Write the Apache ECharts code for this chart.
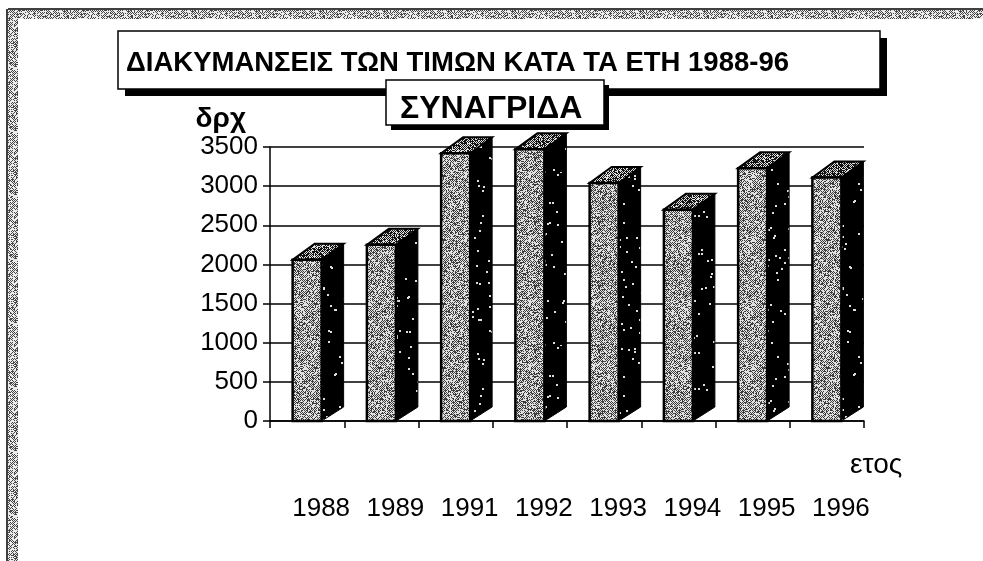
<!DOCTYPE html>
<html>
<head>
<meta charset="utf-8">
<style>html,body{margin:0;padding:0;background:#fff}#c{width:983px;height:561px}</style>
<script src="https://cdn.jsdelivr.net/npm/echarts@6/dist/echarts.min.js"></script>
</head>
<body>
<div id="c"></div>
<script>
const years = ['1988','1989','1991','1992','1993','1994','1995','1996'];
const prices = [2060,2250,3420,3470,3040,2700,3230,3110];
const yTicks = [0,500,1000,1500,2000,2500,3000,3500];
const mainTitle = 'ΔΙΑΚΥΜΑΝΣΕΙΣ ΤΩΝ ΤΙΜΩΝ ΚΑΤΑ ΤΑ ΕΤΗ 1988-96';
const subTitle = 'ΣΥΝΑΓΡΙΔΑ';
const yName = 'δρχ';
const xName = 'ετος';

// Deterministic scanned-print textures
function hash(x, y, s) {
  let h = (x * 374761393 + y * 668265263 + s * 2147483647) | 0;
  h = Math.imul(h ^ (h >>> 13), 1274126177);
  return ((h ^ (h >>> 16)) >>> 0) / 4294967296;
}
function texture(size, baseBlack, seed, dark, light) {
  const cv = document.createElement('canvas');
  cv.width = cv.height = size;
  const g = cv.getContext('2d');
  const img = g.createImageData(size, size);
  for (let y = 0; y < size; y++) for (let x = 0; x < size; x++) {
    const check = (x + y) % 2 === 0 ? 0.3 : -0.3;
    const v = hash(x, y, seed) < baseBlack + check ? dark : light;
    const i = (y * size + x) * 4;
    img.data[i] = img.data[i+1] = img.data[i+2] = v; img.data[i+3] = 255;
  }
  g.putImageData(img, 0, 0);
  return cv;
}
const frontFill = { image: texture(64, 0.45, 3, 60, 225), repeat: 'repeat' };
const topFill = { image: texture(48, 0.6, 7, 20, 225), repeat: 'repeat' };
const stripFill = { image: texture(64, 0.4, 11, 70, 235), repeat: 'repeat' };
function specks(size, seed) {
  const cv = document.createElement('canvas');
  cv.width = cv.height = size;
  const g = cv.getContext('2d');
  g.fillStyle = '#000'; g.fillRect(0, 0, size, size);
  g.fillStyle = '#ddd';
  for (let y = 0; y < size; y++) for (let x = 0; x < size; x++) {
    if (hash(x, y, seed) < 0.006) g.fillRect(x, y, 2, 2);
  }
  return cv;
}
const sideFill = { image: specks(173, 5), repeat: 'repeat' };

function renderBar(params, api) {
  const v = api.value(1);
  const top = api.coord([api.value(0), v]);
  const base = api.coord([api.value(0), 0]);
  const w = 29, dx = 22, dyTop = 16, dyBase = 14;
  const x0 = top[0] - w / 2, x1 = top[0] + w / 2, yt = top[1], yb = base[1];
  return {
    type: 'group',
    children: [
      { type: 'polygon', shape: { points: [[x1, yb], [x1 + dx, yb - dyBase], [x1 + dx, yt - dyTop], [x1, yt]] },
        style: { fill: sideFill, stroke: '#000', lineWidth: 1 } },
      { type: 'polygon', shape: { points: [[x0, yt], [x0 + dx, yt - dyTop], [x1 + dx, yt - dyTop], [x1, yt]] },
        style: { fill: topFill, stroke: '#000', lineWidth: 2 } },
      { type: 'rect', shape: { x: x0, y: yt, width: w, height: yb - yt },
        style: { fill: frontFill, stroke: '#000', lineWidth: 2.5 } }
    ]
  };
}

function boxPair(x, y, w, h, off, z) {
  return [
    { type: 'rect', silent: true, z: z, shape: { x: x + off, y: y + off, width: w, height: h }, style: { fill: '#000' } },
    { type: 'rect', silent: true, z: z + 0.1, shape: { x: x, y: y, width: w, height: h }, style: { fill: '#fff', stroke: '#000', lineWidth: 1.5 } }
  ];
}

const chart = echarts.init(document.getElementById('c'), null, { renderer: 'canvas' });
chart.setOption({
  animation: false,
  backgroundColor: '#fff',
  textStyle: { fontFamily: 'Liberation Sans' },
  title: [
    { text: mainTitle, left: 126, top: 49, padding: 0, z: 8,
      textStyle: { fontFamily: 'Liberation Sans', fontSize: 27.5, fontWeight: 'bold', color: '#000' } },
    { text: subTitle, left: 400, top: 93, padding: 0, z: 8,
      textStyle: { fontFamily: 'Liberation Sans', fontSize: 32, fontWeight: 'bold', color: '#000' } }
  ],
  graphic: [
    { type: 'rect', silent: true, z: -10, shape: { x: 9, y: 10, width: 974, height: 9 }, style: { fill: stripFill } },
    { type: 'rect', silent: true, z: -10, shape: { x: 8, y: 10, width: 10, height: 551 }, style: { fill: stripFill } },
    { type: 'line', silent: true, z: -9, shape: { x1: 8, y1: 9, x2: 983, y2: 9 }, style: { stroke: '#000', lineWidth: 1.5 } },
    { type: 'line', silent: true, z: -9, shape: { x1: 7, y1: 9, x2: 7, y2: 561 }, style: { stroke: '#000', lineWidth: 1.5 } },
    ...boxPair(118, 31, 762, 58, 7, 5),
    ...boxPair(386, 80, 218, 45, 5, 6)
  ],
  grid: { left: 270, top: 147, width: 594, height: 274, containLabel: false },
  xAxis: {
    type: 'category', data: years,
    name: xName, nameLocation: 'end', nameGap: -14,
    nameTextStyle: { fontFamily: 'Liberation Sans', fontSize: 28, color: '#000', align: 'left', verticalAlign: 'top', padding: [30, 0, 0, 0] },
    axisLine: { onZero: false, lineStyle: { color: '#000', width: 1.5 } },
    axisTick: { show: true, length: 7, alignWithLabel: false, lineStyle: { color: '#000', width: 1.5 } },
    axisLabel: { interval: 0, margin: 75, fontSize: 26, color: '#000', padding: [0, 0, 0, 28], fontFamily: 'Liberation Sans' },
    splitLine: { show: false }
  },
  yAxis: {
    type: 'value', min: yTicks[0], max: yTicks[yTicks.length - 1], interval: yTicks[1] - yTicks[0],
    name: yName, nameLocation: 'end', nameGap: 14,
    nameTextStyle: { fontFamily: 'Liberation Sans', fontSize: 28, fontWeight: 'bold', color: '#000', align: 'right', padding: [0, 24, 0, 0] },
    axisLine: { show: true, lineStyle: { color: '#000', width: 1.5 } },
    axisTick: { show: true, length: 7, lineStyle: { color: '#000', width: 1.5 } },
    axisLabel: { margin: 12, fontSize: 26, color: '#000', fontFamily: 'Liberation Sans', formatter: v => String(v) },
    splitLine: { show: true, lineStyle: { color: '#000', width: 1.5 } }
  },
  series: [{
    type: 'custom', renderItem: renderBar, clip: false, z: 3,
    encode: { x: 0, y: 1 },
    data: years.map((y, i) => [y, prices[i]])
  }]
});
</script>
</body>
</html>
